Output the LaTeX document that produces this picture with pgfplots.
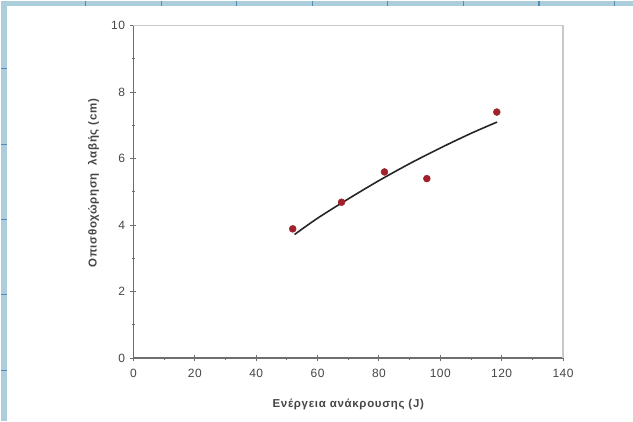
\documentclass[border=0pt]{standalone}
\usepackage{pgfplots}
\pgfplotsset{compat=1.18}
\usepackage{fontspec}
\setmainfont{Liberation Sans}
\definecolor{bgblue}{RGB}{172,206,220}
\definecolor{gridblue}{RGB}{80,140,180}
\definecolor{axgray}{RGB}{110,110,110}
\definecolor{framegray}{RGB}{200,200,200}
\definecolor{labgray}{RGB}{70,70,70}
\definecolor{dotred}{RGB}{160,32,44}
\begin{document}
\begin{tikzpicture}[x=1pt,y=1pt]
% page background: blue paper strip with grid on top and left
\fill[bgblue] (-133,-63) rectangle (500,358);
\foreach \q in {85,160.7,236,312,387.6,463,539,614.5}
  \draw[gridblue,line width=1.2pt] (\q-133,352) -- (\q-133,358);
\foreach \p in {68,144,219,294,370}
  \draw[gridblue,line width=1.2pt] (-133,358-\p) -- (-127,358-\p);
\fill[white] (-127,-63) rectangle (500,353);

\begin{axis}[
    at={(0,0)}, anchor=south west,
    scale only axis,
    width=430pt, height=333pt,
    xmin=0, xmax=140, ymin=0, ymax=10,
    xtick={0,20,...,140}, ytick={0,2,...,10},
    minor x tick num=1, minor y tick num=1,
    axis x line*=bottom, axis y line*=left,
    axis line style={axgray, line width=1.6pt},
    tick align=center,
    major tick length=6pt, minor tick length=3pt,
    every tick/.style={axgray, line width=1pt},
    tick label style={font=\fontsize{12}{14}\selectfont\addfontfeature{LetterSpace=4}, text=labgray},
    /pgf/number format/assume math mode=true,
    xticklabel style={yshift=-4pt},
    yticklabel style={xshift=-2pt},
    xlabel={Ενέργεια ανάκρουσης (J)},
    ylabel={Οπισθοχώρηση\ \ λαβής (cm)},
    label style={font=\bfseries\fontsize{11.5}{13}\selectfont\addfontfeature{LetterSpace=6}, text=labgray},
    xlabel style={at={(axis description cs:0.5,-0.138)}, anchor=center},
    ylabel style={at={(axis description cs:-0.093,0.526)}, anchor=center},
    clip=false,
]
\draw[framegray, line width=1.2pt] (rel axis cs:0,1) -- (rel axis cs:1,1) -- (rel axis cs:1,0);
\addplot[black!85, line width=1.6pt, smooth, no marks] coordinates {
    (52.5,3.72) (60,4.21) (70,4.79) (80,5.34) (90,5.85)
    (100,6.32) (110,6.76) (118.5,7.10)
};
\addplot[only marks, mark=*, mark size=3.5pt, dotred] coordinates {
    (51.9,3.89) (67.8,4.69) (81.8,5.60) (95.6,5.40) (118.4,7.40)
};
\end{axis}
\end{tikzpicture}
\end{document}
